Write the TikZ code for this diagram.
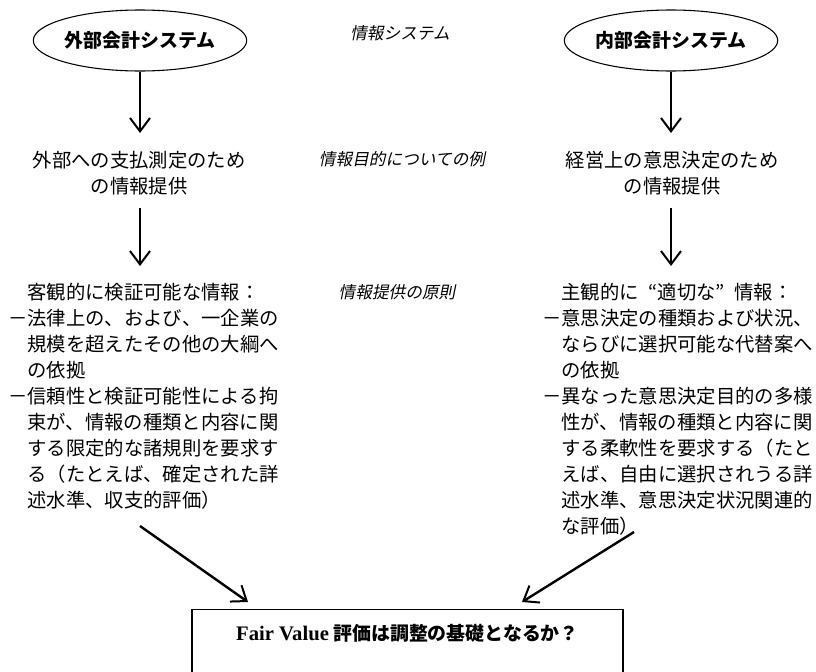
\documentclass[tikz,border=0pt]{standalone}
\usepackage{fontspec}
\usetikzlibrary{arrows.meta,shapes.geometric}
\newfontfamily\jp{Noto Sans CJK JP}
\newfontfamily\jpit[FakeSlant=0.2]{Noto Sans CJK JP}
\newfontfamily\fvfont{Liberation Serif}
\begin{document}
\begin{tikzpicture}[x=0.75pt,y=-0.75pt,
  arr/.style={line width=1.8pt,-{Straight Barb[length=10pt,width=15pt,line width=1.5pt]}},
  sysnode/.style={ellipse,draw,line width=0.8pt,minimum width=139.5pt,minimum height=45.75pt,inner sep=0pt,font=\jp\bfseries\fontsize{14.2}{17}\selectfont},
  body/.style={font=\jp\fontsize{14.5}{19.5}\selectfont,inner sep=0pt},
  middle/.style={font=\jpit\fontsize{12.5}{15}\selectfont,inner sep=0pt},
  qbox/.style={draw,line width=1pt,anchor=north,minimum width=323.25pt,text height=12pt,text depth=90pt,inner ysep=11pt,font=\jp\bfseries\fontsize{14.2}{16}\selectfont}
]
\useasboundingbox (0,0) rectangle (816,671);

% systems
\node[sysnode] (ext) at (140,40.5) {外部会計システム};
\node[sysnode,minimum width=144pt] (int) at (671,40.5) {内部会計システム};

% middle labels
\node[middle] (m1) at (400,33) {情報システム};
\node[middle] (m2) at (402,159) {情報目的についての例};
\node[middle] (m3) at (397,292) {情報提供の原則};

% purposes
\node[body,align=center,anchor=north] (extpurp) at (139,151) {外部への支払測定のため\\の情報提供};
\node[body,align=center,anchor=north] (intpurp) at (672,151) {経営上の意思決定のため\\の情報提供};

% principles
\node[body,align=left,anchor=north west] (extprin) at (8,283) {%
　客観的に検証可能な情報：\\
－法律上の、および、一企業の\\
　規模を超えたその他の大綱へ\\
　の依拠\\
－信頼性と検証可能性による拘\\
　束が、情報の種類と内容に関\\
　する限定的な諸規則を要求す\\
　る（たとえば、確定された詳\\
　述水準、収支的評価）};
\node[body,align=left,anchor=north west] (intprin) at (542,283) {%
　主観的に\hspace{0.5em}“適切な”\hspace{0.5em}情報：\\
－意思決定の種類および状況、\\
　ならびに選択可能な代替案へ\\
　の依拠\\
－異なった意思決定目的の多様\\
　性が、情報の種類と内容に関\\
　する柔軟性を要求する（たと\\
　えば、自由に選択されうる詳\\
　述水準、意思決定状況関連的\\
　な評価）};

% question box
\node[qbox] (q) at (407.5,609) {{\fvfont\bfseries\fontsize{15.5}{16}\selectfont Fair Value} 評価は調整の基礎となるか？};

% vertical arrows
\draw[arr,shorten >=13.5pt] (ext.south) -- (ext.south |- extpurp.north);
\draw[arr,shorten >=13.5pt] (int.south) -- (int.south |- intpurp.north);
\draw[arr,shorten <=9.75pt,shorten >=12.75pt] (ext.south |- extpurp.south) -- (ext.south |- extprin.north);
\draw[arr,shorten <=9.75pt,shorten >=12.75pt] (int.south |- intpurp.south) -- (int.south |- intprin.north);

% diagonal arrows
\coordinate (ls) at (140,526);
\coordinate (lt) at (248,602);
\coordinate (rs) at (634,532);
\coordinate (rt) at (522,602);
\draw[arr] (ls) -- (lt);
\draw[arr] (rs) -- (rt);
\end{tikzpicture}
\end{document}
